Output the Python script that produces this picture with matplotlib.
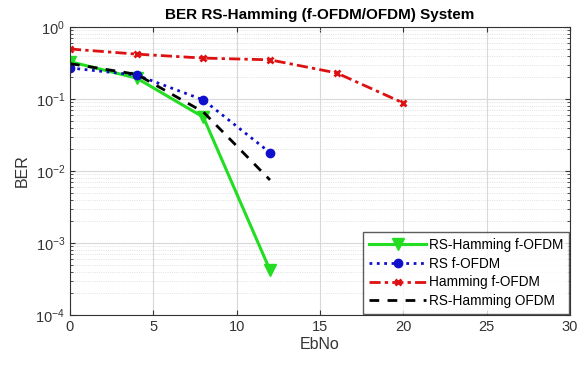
import matplotlib
matplotlib.use("Agg")
import matplotlib.pyplot as plt
import numpy as np

ebno_rsh = [0, 4, 8, 12]
ber_rsh_fofdm = [0.33, 0.195, 0.056, 4.2e-4]
ebno_rs = [0, 4, 8, 12]
ber_rs_fofdm = [0.27, 0.215, 0.097, 0.018]
ebno_ham = [0, 4, 8, 12, 16, 20]
ber_ham_fofdm = [0.495, 0.42, 0.37, 0.35, 0.23, 0.088]
ebno_ofdm = [0, 4, 8, 12]
ber_rsh_ofdm = [0.31, 0.22, 0.066, 0.0075]

plt.rcParams['font.family'] = ['Liberation Sans', 'DejaVu Sans']
fig = plt.figure(figsize=(5.85, 3.65), dpi=100)
ax = fig.add_axes([70/585, 1-315/365, 500/585, 288/365])

ax.semilogy(ebno_rsh, ber_rsh_fofdm, color='#22dd22', lw=2.2, marker='v', ms=8, label='RS-Hamming f-OFDM')
ax.semilogy(ebno_rs, ber_rs_fofdm, color='#1010cc', lw=2, ls=':', marker='o', ms=6, label='RS f-OFDM')
ax.semilogy(ebno_ham, ber_ham_fofdm, color='#dd1111', lw=2, ls='-.', dashes=(4, 1.5, 1.2, 1.5), marker='x', ms=5, mew=2, label='Hamming f-OFDM')
ax.semilogy(ebno_ofdm, ber_rsh_ofdm, color='black', lw=2, ls='--', dashes=(3.5, 3), label='RS-Hamming OFDM')

ax.set_xlim(0, 30)
ax.set_ylim(1e-4, 1)
ax.set_xticks([0, 5, 10, 15, 20, 25, 30])
ax.grid(True, which='major', color='#d8d8d8', lw=0.8)
ax.grid(True, which='minor', color='#d8d8d8', lw=0.6, ls=':')
ax.tick_params(which='both', direction='in', top=True, right=True, labelsize=10.5, colors='#333333', labelcolor='#333333')
for s in ax.spines.values():
    s.set_color('#333333')
ax.set_xlabel('EbNo', fontsize=11.5, color='#333333', labelpad=2)
ax.set_ylabel('BER', fontsize=11.5, color='#333333')
ax.set_title('BER RS-Hamming (f-OFDM/OFDM) System', fontsize=11, fontweight='bold', pad=6)
leg = ax.legend(loc='lower right', fontsize=9.8, frameon=True, fancybox=False, edgecolor='#333333',
                borderaxespad=0.1, handlelength=4.2, handletextpad=0.2, labelspacing=0.35, borderpad=0.4)
leg.get_frame().set_linewidth(1)
fig.savefig('out.png', dpi=100)
